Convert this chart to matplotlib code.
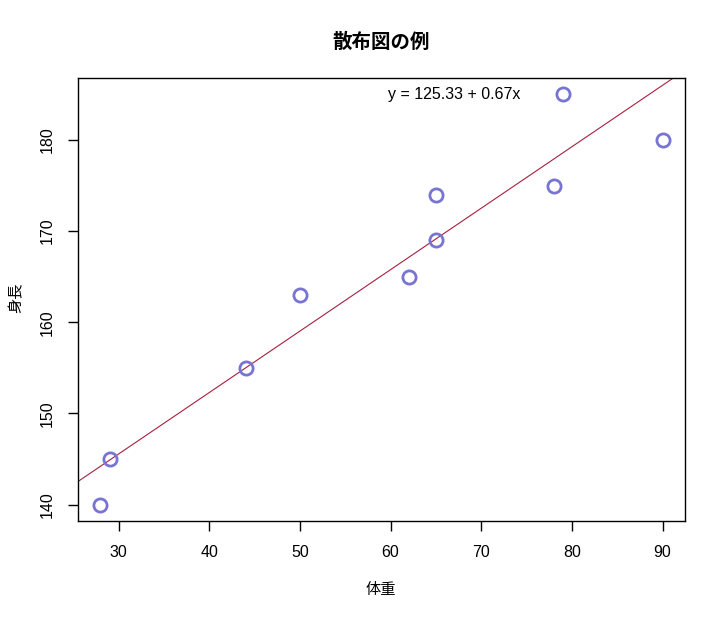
import numpy as np
import matplotlib
matplotlib.use("Agg")
import matplotlib.pyplot as plt

plt.rcParams['font.family'] = ['Liberation Sans', 'Noto Sans CJK JP', 'DejaVu Sans']

#: data
weight = [28, 29, 44, 50, 62, 65, 65, 78, 79, 90]
height = [140, 145, 155, 163, 165, 174, 169, 175, 185, 180]

x = np.array(weight, dtype=float)
y = np.array(height, dtype=float)
slope, intercept = np.polyfit(x, y, 1)

W, H = 726, 619
fig = plt.figure(figsize=(W/100, H/100), dpi=100)
ax = fig.add_axes([78/W, 1 - 521/H, (685 - 78)/W, (521 - 78)/H])

#: R-like 4% padding
xr = x.max() - x.min()
yr = y.max() - y.min()
ax.set_xlim(x.min() - 0.04*xr, x.max() + 0.04*xr)
ax.set_ylim(y.min() - 0.04*yr, y.max() + 0.04*yr)

ax.plot(x, y, 'o', ms=9.5, mfc='none', mec='#7874d2', mew=2, zorder=3)
xs = np.array(ax.get_xlim())
ax.plot(xs, intercept + slope*xs, color='#a8203c', lw=0.8, zorder=2)
ax.set_xlim(xs)

ax.text(67, 185, "y = %.2f + %.2fx" % (intercept, slope), ha='center', va='center', fontsize=11.5)

#: R base style axes
for sp in ['top', 'right', 'left', 'bottom']:
    ax.spines[sp].set_linewidth(1.0)
ax.set_xticks(np.arange(30, 91, 10))
ax.set_yticks(np.arange(140, 181, 10))
ax.tick_params(direction='out', length=7, labelsize=11.5, width=1, pad=10)
plt.setp(ax.get_yticklabels(), rotation=90, va='center')

fig.text(381/W, 1 - 42/H, "散布図の例", fontsize=14, fontweight='bold', ha='center', va='center')
fig.text(381/W, 1 - 590/H, "体重", fontsize=11, ha='center', va='center')
fig.text(16/W, 1 - 298/H, "身長", fontsize=11, ha='center', va='center', rotation=90)

fig.savefig("out.png", dpi=100)
